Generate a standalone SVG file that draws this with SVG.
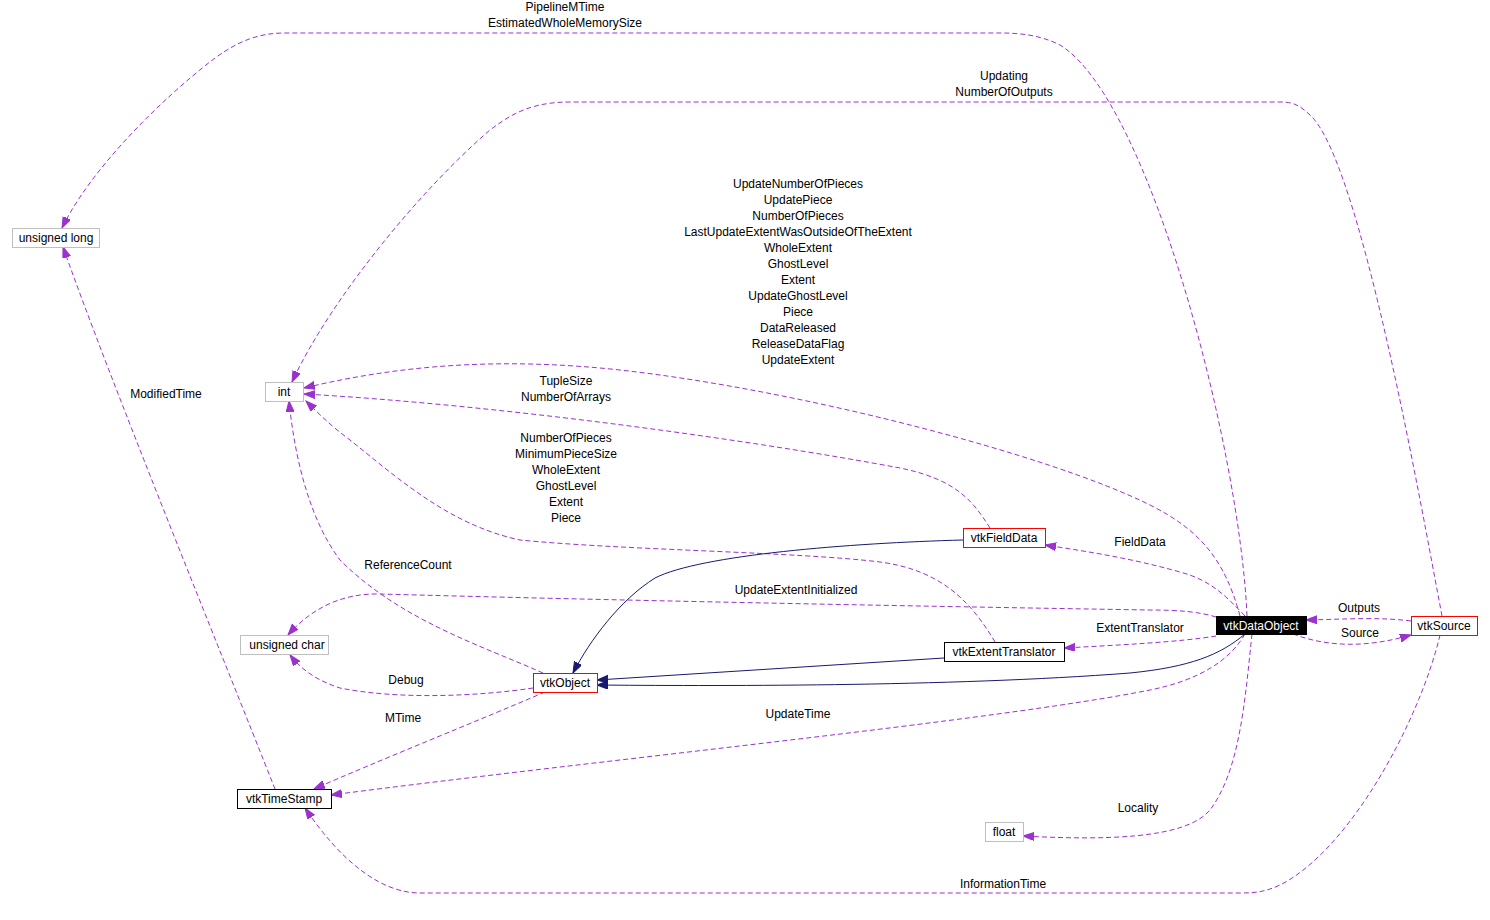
<svg xmlns="http://www.w3.org/2000/svg" width="1490" height="920" viewBox="0 0 1490 920">
<style>
text{font-family:"Liberation Sans",Arial,sans-serif;font-size:12px;fill:#000;text-anchor:middle}
.n rect{fill:#fff;stroke:#000;stroke-width:1}
.g rect{stroke:#bfbfbf}
.r rect{stroke:#ff0000}
.d{fill:none;stroke:#9a32cd;stroke-width:1;stroke-dasharray:5,3}
.s{fill:none;stroke:#191970;stroke-width:1}
</style>
<defs>
<marker id="ap" markerUnits="userSpaceOnUse" markerWidth="12" markerHeight="10" refX="11" refY="4" orient="auto"><path d="M0,0 L11,4 L0,8 z" fill="#9a32cd" stroke="#9a32cd"/></marker>
<marker id="an" markerUnits="userSpaceOnUse" markerWidth="12" markerHeight="10" refX="11" refY="4" orient="auto"><path d="M0,0 L11,4 L0,8 z" fill="#191970" stroke="#191970"/></marker>
</defs>
<rect width="1490" height="920" fill="#fff"/>
<g id="edges">
<path class="d" marker-end="url(#ap)" d="M1247,616 C1240,450 1150,100 1060,45 C1040,35 1020,33 1000,33 L285,33 C260,33 240,40 215,58 C160,100 90,170 62,228"/>
<path class="d" marker-end="url(#ap)" d="M1442,616 C1420,500 1360,160 1310,115 C1300,106 1295,102 1280,102 L570,102 C530,102 510,115 490,130 C420,190 330,300 292,382"/>
<path class="d" marker-end="url(#ap)" d="M1240,616 C1225,560 1200,530 1150,505 C1050,455 800,390 620,370 C500,357 400,365 304,388"/>
<path class="d" marker-end="url(#ap)" d="M990,528 C975,505 960,480 900,468 C750,440 500,405 304,394"/>
<path class="d" marker-end="url(#ap)" d="M995,642 C970,600 940,570 880,562 C800,552 620,550 520,540 C450,525 400,480 350,440 C330,425 320,415 306,401"/>
<path class="d" marker-end="url(#ap)" d="M543,673 C480,645 400,620 340,560 C310,520 295,460 289,401"/>
<path class="d" marker-end="url(#ap)" d="M1216,617 C1200,612 1180,610 1150,610 C900,606 600,600 380,594 C340,593 310,610 288,635"/>
<path class="d" marker-end="url(#ap)" d="M533,688 C480,696 400,700 340,688 C315,680 300,668 290,655"/>
<path class="d" marker-end="url(#ap)" d="M545,692 C480,720 380,760 314,789"/>
<path class="d" marker-end="url(#ap)" d="M275,789 C220,650 110,380 63,247"/>
<path class="d" marker-end="url(#ap)" d="M1245,634 C1230,660 1200,680 1150,690 C1000,720 600,760 331,795"/>
<path class="d" marker-end="url(#ap)" d="M1440,635 C1420,720 1350,850 1280,885 C1265,892 1255,893 1240,893 L420,893 C380,893 340,860 305,808"/>
<path class="d" marker-end="url(#ap)" d="M1252,634 C1245,700 1240,770 1210,810 C1185,840 1100,840 1023,836"/>
<path class="d" marker-end="url(#ap)" d="M1245,616 C1225,595 1210,580 1180,572 C1130,558 1090,552 1045,545"/>
<path class="d" marker-end="url(#ap)" d="M1216,636 C1180,642 1120,645 1064,648"/>
<path class="d" marker-end="url(#ap)" d="M1411,621 C1380,617 1350,619 1306,620"/>
<path class="d" marker-end="url(#ap)" d="M1293,634 C1330,648 1370,647 1411,635"/>
<path class="s" marker-end="url(#an)" d="M963,540 C850,543 700,555 655,578 C620,600 590,640 573,673"/>
<path class="s" marker-end="url(#an)" d="M944,658 L597,680"/>
<path class="s" marker-end="url(#an)" d="M1245,634 C1220,655 1190,667 1130,673 C950,687 700,686 597,685"/>
<text x="565" y="11">PipelineMTime</text>
<text x="565" y="27">EstimatedWholeMemorySize</text>
<text x="1004" y="80">Updating</text>
<text x="1004" y="96">NumberOfOutputs</text>
<text x="798" y="188">UpdateNumberOfPieces</text>
<text x="798" y="204">UpdatePiece</text>
<text x="798" y="220">NumberOfPieces</text>
<text x="798" y="236">LastUpdateExtentWasOutsideOfTheExtent</text>
<text x="798" y="252">WholeExtent</text>
<text x="798" y="268">GhostLevel</text>
<text x="798" y="284">Extent</text>
<text x="798" y="300">UpdateGhostLevel</text>
<text x="798" y="316">Piece</text>
<text x="798" y="332">DataReleased</text>
<text x="798" y="348">ReleaseDataFlag</text>
<text x="798" y="364">UpdateExtent</text>
<text x="566" y="385">TupleSize</text>
<text x="566" y="401">NumberOfArrays</text>
<text x="566" y="442">NumberOfPieces</text>
<text x="566" y="458">MinimumPieceSize</text>
<text x="566" y="474">WholeExtent</text>
<text x="566" y="490">GhostLevel</text>
<text x="566" y="506">Extent</text>
<text x="566" y="522">Piece</text>
<text x="166" y="398">ModifiedTime</text>
<text x="408" y="569">ReferenceCount</text>
<text x="1140" y="546">FieldData</text>
<text x="796" y="594">UpdateExtentInitialized</text>
<text x="1140" y="632">ExtentTranslator</text>
<text x="1359" y="612">Outputs</text>
<text x="1360" y="637">Source</text>
<text x="406" y="684">Debug</text>
<text x="403" y="722">MTime</text>
<text x="798" y="718">UpdateTime</text>
<text x="1138" y="812">Locality</text>
<text x="1003" y="888">InformationTime</text>
</g>
<g id="unsigned_long" class="n g"><rect x="12.5" y="228.5" width="87" height="19"/><text x="56" y="242">unsigned long</text></g>
<g id="int" class="n g"><rect x="265.5" y="382.5" width="38" height="19"/><text x="284" y="396">int</text></g>
<g id="unsigned_char" class="n g"><rect x="240.5" y="635.5" width="88" height="19"/><text x="287" y="649">unsigned char</text></g>
<g id="vtkObject" class="n r"><rect x="533.5" y="673.5" width="64" height="19"/><text x="565" y="687">vtkObject</text></g>
<g id="vtkTimeStamp" class="n"><rect x="237.5" y="789.5" width="94" height="19"/><text x="284" y="803">vtkTimeStamp</text></g>
<g id="vtkFieldData" class="n r"><rect x="963.5" y="528.5" width="82" height="19"/><text x="1004" y="542">vtkFieldData</text></g>
<g id="vtkExtentTranslator" class="n"><rect x="944.5" y="642.5" width="120" height="19"/><text x="1004" y="656">vtkExtentTranslator</text></g>
<g id="vtkDataObject"><rect x="1216" y="616" width="91" height="19" fill="#000"/><text x="1261" y="630" style="fill:#fff">vtkDataObject</text></g>
<g id="vtkSource" class="n r"><rect x="1411.5" y="616.5" width="66" height="19"/><text x="1444" y="630">vtkSource</text></g>
<g id="float" class="n g"><rect x="985.5" y="822.5" width="38" height="19"/><text x="1004" y="836">float</text></g>
</svg>
